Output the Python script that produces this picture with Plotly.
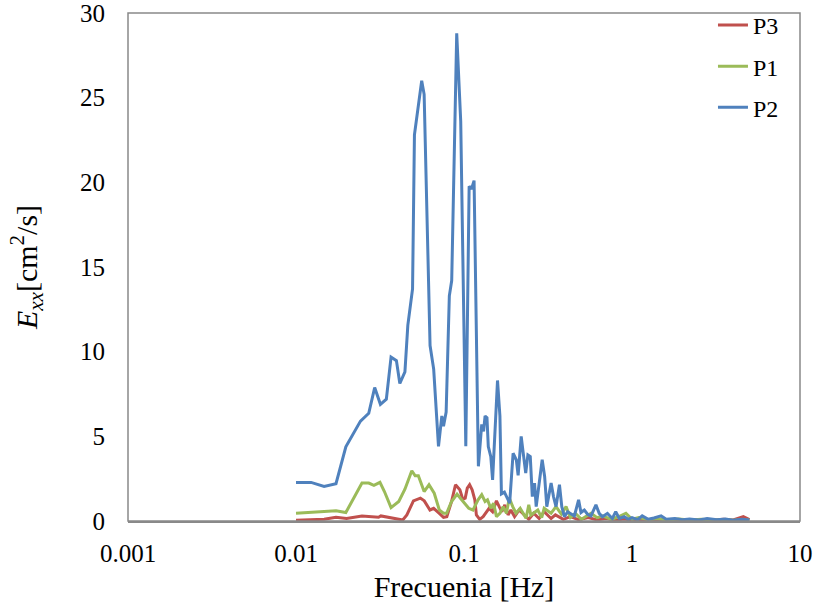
import plotly.graph_objects as go

# frequency [Hz] and energy E_xx [cm2/s]
freq_p3 = [0.0100, 0.0147, 0.0173, 0.0200, 0.0247, 0.0271, 0.0310, 0.0320, 0.0360, 0.0400,
           0.0432, 0.0457, 0.0500, 0.0550, 0.0580, 0.0627, 0.0660, 0.0705, 0.0755, 0.0790,
           0.0843, 0.0890, 0.0945, 0.0983, 0.1017, 0.1046, 0.1080, 0.1118, 0.1160, 0.1185,
           0.1240, 0.1300, 0.1358, 0.1410, 0.1480, 0.1560, 0.1620, 0.1680, 0.1750, 0.1830,
           0.1900, 0.2000, 0.2130, 0.2280, 0.2430, 0.2600, 0.2800, 0.3000, 0.3300, 0.3500,
           0.3900, 0.4300, 0.4800, 0.5500, 0.6200, 0.7000, 0.8000, 0.9000, 1.0000, 1.2000,
           1.4000, 1.7000, 2.0000, 2.5000, 3.0000, 3.5000, 4.0000, 4.6000, 5.0000]
exx_p3 = [0.05, 0.10, 0.22, 0.15, 0.30, 0.26, 0.22, 0.30, 0.22, 0.15,
          0.06, 0.36, 1.19, 1.35, 1.19, 0.65, 0.75, 0.49, 0.22, 0.26,
          1.15, 2.14, 1.84, 1.29, 1.35, 1.94, 2.14, 1.84, 1.25, 0.36,
          0.10, 0.26, 0.55, 0.75, 0.55, 1.19, 0.85, 0.55, 0.95, 0.36,
          0.65, 0.26, 0.65, 0.36, 0.10, 0.46, 0.15, 0.55, 0.15, 0.36,
          0.10, 0.26, 0.08, 0.20, 0.06, 0.15, 0.05, 0.12, 0.04, 0.10,
          0.05, 0.09, 0.04, 0.08, 0.05, 0.10, 0.06, 0.26, 0.08]

freq_p1 = [0.0100, 0.0173, 0.0198, 0.0247, 0.0271, 0.0291, 0.0316, 0.0336, 0.0368, 0.0409,
           0.0445, 0.0489, 0.0512, 0.0535, 0.0579, 0.0619, 0.0665, 0.0713, 0.0755, 0.0788,
           0.0843, 0.0909, 0.0960, 0.1019, 0.1067, 0.1131, 0.1213, 0.1275, 0.1335, 0.1380,
           0.1444, 0.1500, 0.1560, 0.1640, 0.1710, 0.1790, 0.1860, 0.1950, 0.2040, 0.2160,
           0.2340, 0.2430, 0.2500, 0.2750, 0.2900, 0.3000, 0.3300, 0.3530, 0.3800, 0.4050,
           0.4300, 0.4600, 0.5000, 0.5700, 0.6200, 0.6700, 0.7500, 0.8300, 0.9200, 1.0000,
           1.1000, 1.2500, 1.4000, 1.6000, 1.9000, 2.2000, 2.6000, 3.0000, 3.5000, 4.0000,
           4.5000, 5.0000]
exx_p1 = [0.46, 0.61, 0.50, 2.24, 2.24, 2.10, 2.28, 1.74, 0.79, 1.15,
          1.88, 2.97, 2.67, 2.67, 1.74, 2.14, 1.64, 0.65, 0.46, 0.46,
          1.15, 1.59, 1.30, 0.99, 0.75, 0.65, 1.25, 1.55, 1.15, 1.25,
          0.75, 1.05, 0.26, 0.46, 0.85, 0.46, 1.35, 0.85, 0.46, 0.75,
          0.16, 0.95, 0.35, 0.65, 0.20, 0.75, 0.46, 0.85, 0.40, 0.85,
          0.20, 0.45, 0.10, 0.46, 0.20, 0.30, 0.10, 0.25, 0.46, 0.10,
          0.20, 0.08, 0.15, 0.05, 0.12, 0.06, 0.10, 0.05, 0.09, 0.04,
          0.08, 0.05]

freq_p2 = [0.0100, 0.0123, 0.0147, 0.0173, 0.0198, 0.0242, 0.0271, 0.0294, 0.0318, 0.0345,
           0.0368, 0.0396, 0.0415, 0.0445, 0.0463, 0.0494, 0.0507, 0.0560, 0.0579, 0.0600,
           0.0628, 0.0660, 0.0705, 0.0738, 0.0755, 0.0783, 0.0818, 0.0845, 0.0905, 0.0956,
           0.1025, 0.1073, 0.1107, 0.1148, 0.1218, 0.1275, 0.1308, 0.1335, 0.1370, 0.1395,
           0.1444, 0.1480, 0.1550, 0.1583, 0.1636, 0.1670, 0.1740, 0.1790, 0.1870, 0.1960,
           0.2050, 0.2100, 0.2190, 0.2240, 0.2330, 0.2400, 0.2480, 0.2550, 0.2630, 0.2690,
           0.2820, 0.2920, 0.3020, 0.3110, 0.3300, 0.3410, 0.3530, 0.3700, 0.3820, 0.3960,
           0.4140, 0.4340, 0.4540, 0.4810, 0.4970, 0.5200, 0.5440, 0.5700, 0.6100, 0.6380,
           0.6670, 0.7140, 0.7640, 0.8000, 0.8400, 0.9000, 0.9500, 1.0000, 1.0800, 1.1500,
           1.2500, 1.3500, 1.4900, 1.6000, 1.8000, 2.0000, 2.2000, 2.5000, 2.8000, 3.2000,
           3.6000, 4.0000, 4.5000, 5.0000]
exx_p2 = [2.28, 2.28, 2.04, 2.20, 4.38, 5.90, 6.36, 7.88, 6.89, 7.19,
          9.68, 9.47, 8.12, 8.81, 11.55, 13.70, 22.80, 26.00, 25.20, 19.00,
          10.36, 8.97, 4.41, 6.20, 5.60, 6.43, 13.30, 14.20, 28.80, 23.60,
          4.41, 19.77, 19.60, 20.10, 3.23, 5.70, 5.30, 6.20, 6.10, 4.40,
          3.80, 2.43, 7.00, 8.30, 6.20, 1.60, 1.70, 1.44, 1.05, 4.00,
          3.60, 2.70, 5.00, 4.20, 2.83, 3.90, 3.80, 1.44, 2.24, 0.85,
          2.63, 3.62, 2.63, 0.85, 2.24, 1.44, 0.85, 2.14, 0.85, 0.26,
          0.55, 0.40, 0.30, 1.25, 0.50, 0.65, 0.40, 0.30, 0.95, 0.45,
          0.25, 0.45, 0.15, 0.55, 0.15, 0.25, 0.10, 0.20, 0.08, 0.30,
          0.10, 0.18, 0.30, 0.10, 0.15, 0.08, 0.12, 0.06, 0.14, 0.07,
          0.12, 0.05, 0.10, 0.06]

x_ticks = [0.001, 0.01, 0.1, 1, 10]
x_ticktext = ["0.001", "0.01", "0.1", "1", "10"]
y_ticks = [0, 5, 10, 15, 20, 25, 30]

FONT = "Liberation Serif, Times New Roman, serif"

fig = go.Figure()
series = [("P3", freq_p3, exx_p3, "#C0504D"),
          ("P1", freq_p1, exx_p1, "#9BBB59"),
          ("P2", freq_p2, exx_p2, "#4F81BD")]
for name, f, e, col in series:
    fig.add_trace(go.Scatter(x=f, y=e, mode="lines", name=name, legendgroup=name,
                             line=dict(color=col, width=3)))

fig.update_layout(
    width=818, height=608,
    margin=dict(l=128, r=18, t=13, b=87, autoexpand=False),
    paper_bgcolor="white", plot_bgcolor="white",
    font=dict(family=FONT, size=25, color="black"),
    showlegend=True,
    legend=dict(x=0.8705, y=1.02, xanchor="left", yanchor="top",
                bgcolor="rgba(0,0,0,0)", tracegroupgap=7,
                font=dict(family=FONT, size=24)),
    shapes=[dict(type="rect", xref="paper", yref="paper", x0=0, y0=0, x1=1, y1=1,
                 line=dict(color="#898989", width=1.5), layer="above")],
)
fig.update_xaxes(type="log", range=[-3, 1], tickvals=x_ticks, ticktext=x_ticktext,
                 showgrid=False, zeroline=False, ticks="", ticklabelstandoff=9,
                 ticklabeloverflow="allow",
                 showline=True, linecolor="#898989", linewidth=2, automargin=False,
                 title=dict(text="Frecuenia [Hz]", font=dict(size=30), standoff=10))
fig.update_yaxes(range=[0, 30], tickvals=y_ticks, showgrid=False, zeroline=False,
                 ticks="", ticklabelstandoff=22, showline=False, automargin=False,
                 ticklabeloverflow="allow",
                 title=dict(text="<i>E</i><sub><i>xx</i></sub>[cm<sup>2</sup>/s]",
                            font=dict(size=30), standoff=33))

# drop the default 8px body margin so the figure sits at the window's corner
fig.write_html("out.html", config={"displayModeBar": False},
               post_script="document.body.style.margin='0';")
